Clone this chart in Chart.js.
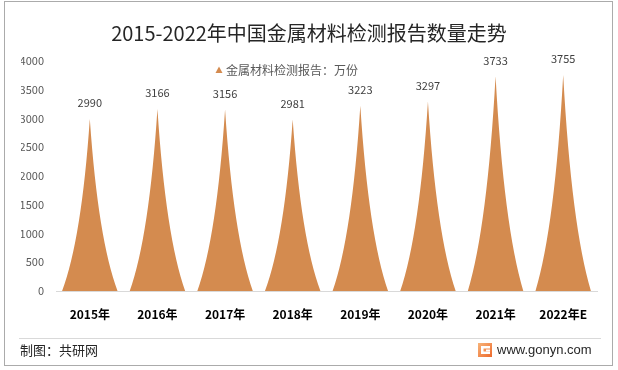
<!DOCTYPE html>
<html>
<head>
<meta charset="utf-8">
<script src="https://cdn.jsdelivr.net/npm/chart.js@4/dist/chart.umd.min.js"></script>
<style>
html,body{margin:0;padding:0;background:#fff;}
canvas{display:block;}
</style>
</head>
<body>
<canvas id="c" width="618" height="370"></canvas>
<script>
const categories = ['2015年','2016年','2017年','2018年','2019年','2020年','2021年','2022年E'];
const values = [2990, 3166, 3156, 2981, 3223, 3297, 3733, 3755];
const seriesName = '金属材料检测报告：万份';
const titleText = '2015-2022年中国金属材料检测报告数量走势';
const sourceText = '制图：共研网';
const siteText = 'www.gonyn.com';
const yMin = 0, yMax = 4000, yStep = 500;

const FILL = '#D48B4F';
const CJK = '"Noto Sans CJK SC", "Noto Sans", sans-serif';

const spikePlugin = {
  id: 'spikes',
  afterDatasetsDraw(chart) {
    const ctx = chart.ctx;
    const meta = chart.getDatasetMeta(0);
    ctx.save();
    meta.data.forEach((el, i) => {
      const cx = el.x, top = el.y, base = el.base, hw = el.width / 2;
      const h = base - top;
      ctx.beginPath();
      ctx.moveTo(cx - hw, base);
      ctx.quadraticCurveTo(cx - 0.3 * hw, base - 0.3 * h, cx, top);
      ctx.quadraticCurveTo(cx + 0.3 * hw, base - 0.3 * h, cx + hw, base);
      ctx.closePath();
      ctx.fillStyle = FILL;
      ctx.fill();
      // data label
      ctx.fillStyle = '#404040';
      ctx.font = '11px ' + CJK;
      ctx.textAlign = 'center';
      ctx.textBaseline = 'middle';
      ctx.fillText(String(values[i]), cx, top - 16);
    });
    // legend (inside plot area, left of centre as in the reference)
    const lx = 219;
    const ly = 70;
    ctx.font = '12px ' + CJK;
    ctx.fillStyle = FILL;
    ctx.beginPath();
    ctx.moveTo(lx, ly - 3.5);
    ctx.lineTo(lx + 3.5, ly + 3);
    ctx.lineTo(lx - 3.5, ly + 3);
    ctx.closePath();
    ctx.fill();
    ctx.fillStyle = '#595959';
    ctx.textAlign = 'left';
    ctx.textBaseline = 'middle';
    ctx.fillText(seriesName, lx + 7, ly);
    ctx.restore();
  },
  afterDraw(chart) {
    const ctx = chart.ctx;
    ctx.save();
    // separator line
    ctx.strokeStyle = '#D9D9D9';
    ctx.lineWidth = 1;
    ctx.beginPath();
    ctx.moveTo(19, 338.5);
    ctx.lineTo(601, 338.5);
    ctx.stroke();
    // outer border
    ctx.strokeStyle = '#ABABAB';
    ctx.strokeRect(4.5, 1.5, 608, 364);
    // footer texts
    ctx.fillStyle = '#262626';
    ctx.font = '13px ' + CJK;
    ctx.textAlign = 'left';
    ctx.textBaseline = 'middle';
    ctx.fillText(sourceText, 20, 350);
    // logo
    const g = ctx.createLinearGradient(478, 343, 492, 357);
    g.addColorStop(0, '#F7B47A');
    g.addColorStop(1, '#EE6A2C');
    ctx.fillStyle = g;
    ctx.fillRect(478, 343, 14, 14);
    ctx.fillStyle = '#fff';
    ctx.fillRect(481, 346, 9, 2.5);
    ctx.fillRect(481, 346, 2.5, 8);
    ctx.fillRect(481, 351.5, 9, 2.5);
    ctx.fillRect(486, 349.5, 4, 2);
    ctx.fillStyle = '#262626';
    ctx.font = '13px "Liberation Sans", ' + CJK;
    ctx.fillText(siteText, 497, 350);
    ctx.restore();
  }
};

new Chart(document.getElementById('c'), {
  type: 'bar',
  data: {
    labels: categories,
    datasets: [{
      label: seriesName,
      data: values,
      backgroundColor: 'rgba(0,0,0,0)',
      borderWidth: 0,
      categoryPercentage: 0.82,
      barPercentage: 1.0
    }]
  },
  options: {
    responsive: false,
    animation: false,
    events: [],
    layout: { padding: { left: 21, right: 21, top: 0, bottom: 0 } },
    plugins: {
      title: {
        display: true,
        text: titleText,
        color: '#262626',
        font: { family: CJK, size: 20, weight: 'normal' },
        padding: { top: 21, bottom: 16 }
      },
      legend: { display: false },
      tooltip: { enabled: false }
    },
    scales: {
      x: {
        grid: { display: false, drawTicks: false },
        border: { display: true, color: '#D9D9D9', width: 1 },
        ticks: {
          color: '#000',
          padding: 16,
          maxRotation: 0,
          autoSkip: false,
          font: { family: CJK, size: 12, weight: 'bold' }
        },
        afterFit(scale) { scale.height = 79; }
      },
      y: {
        min: yMin,
        max: yMax,
        grid: { display: false, drawTicks: false },
        border: { display: false },
        ticks: {
          stepSize: yStep,
          color: '#595959',
          padding: 12,
          font: { family: CJK, size: 11 },
          callback: (v) => String(v)
        },
        afterFit(scale) { scale.width = 35; }
      }
    }
  },
  plugins: [spikePlugin]
});
</script>
</body>
</html>
